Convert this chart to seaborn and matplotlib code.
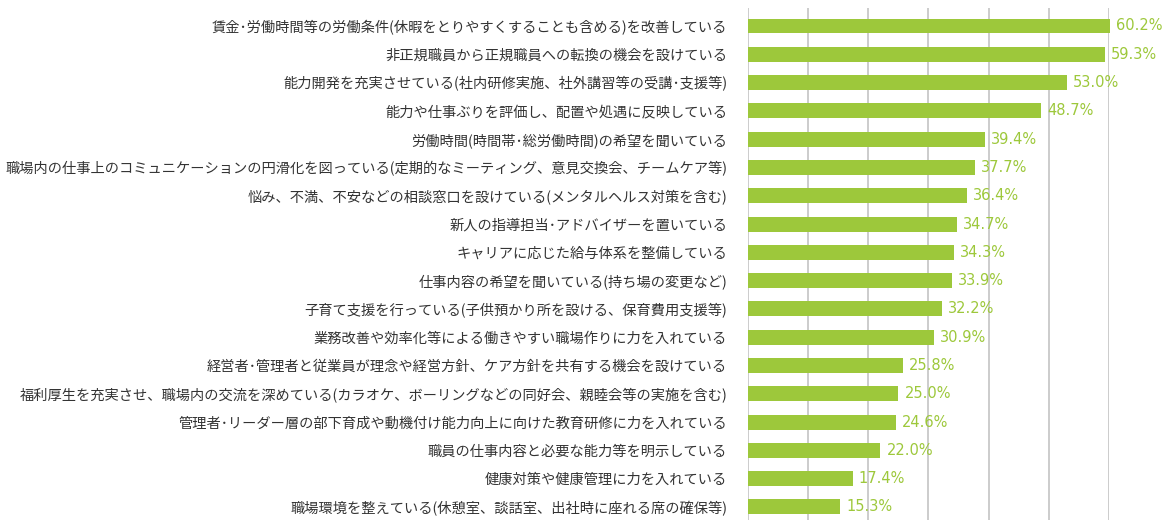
import matplotlib
matplotlib.use("Agg")
import matplotlib.pyplot as plt
import seaborn as sns
import pandas as pd

categories = [
    "賃金･労働時間等の労働条件(休暇をとりやすくすることも含める)を改善している",
    "非正規職員から正規職員への転換の機会を設けている",
    "能力開発を充実させている(社内研修実施、社外講習等の受講･支援等)",
    "能力や仕事ぶりを評価し、配置や処遇に反映している",
    "労働時間(時間帯･総労働時間)の希望を聞いている",
    "職場内の仕事上のコミュニケーションの円滑化を図っている(定期的なミーティング、意見交換会、チームケア等)",
    "悩み、不満、不安などの相談窓口を設けている(メンタルヘルス対策を含む)",
    "新人の指導担当･アドバイザーを置いている",
    "キャリアに応じた給与体系を整備している",
    "仕事内容の希望を聞いている(持ち場の変更など)",
    "子育て支援を行っている(子供預かり所を設ける、保育費用支援等)",
    "業務改善や効率化等による働きやすい職場作りに力を入れている",
    "経営者･管理者と従業員が理念や経営方針、ケア方針を共有する機会を設けている",
    "福利厚生を充実させ、職場内の交流を深めている(カラオケ、ボーリングなどの同好会、親睦会等の実施を含む)",
    "管理者･リーダー層の部下育成や動機付け能力向上に向けた教育研修に力を入れている",
    "職員の仕事内容と必要な能力等を明示している",
    "健康対策や健康管理に力を入れている",
    "職場環境を整えている(休憩室、談話室、出社時に座れる席の確保等)",
]
values = [60.2, 59.3, 53.0, 48.7, 39.4, 37.7, 36.4, 34.7, 34.3, 33.9,
          32.2, 30.9, 25.8, 25.0, 24.6, 22.0, 17.4, 15.3]

df = pd.DataFrame({"cat": categories, "val": values})

sns.set_theme(style="white")
plt.rcParams["font.family"] = ["Noto Sans CJK JP", "DejaVu Sans"]

GREEN = "#9dc83b"
fig = plt.figure(figsize=(11.73, 5.26), dpi=100)
ax = fig.add_axes([0.6377, 0.0114, 0.3077, 0.9736])

sns.barplot(data=df, y="cat", x="val", orient="h", color=GREEN,
            width=0.53, saturation=1, ax=ax)
for p in ax.patches:
    p.set_clip_on(False)
    p.set_edgecolor("none")

ax.set_xlim(0, 60)
ax.set_ylim(len(categories) - 1 + 0.46, -0.64)
ax.set_xticks([0, 10, 20, 30, 40, 50, 60])
ax.xaxis.grid(True, color="#c8c8c8", linewidth=1.3)
ax.set_axisbelow(True)
ax.tick_params(axis="x", bottom=False, labelbottom=False)
ax.tick_params(axis="y", left=False, pad=9, labelsize=10.25, labelcolor="#333333")
for s in ["top", "right", "bottom", "left"]:
    ax.spines[s].set_visible(False)
ax.set_xlabel("")
ax.set_ylabel("")

for i, v in enumerate(values):
    ax.text(v + 1.0, i, f"{v:.1f}%", va="center", ha="left",
            color=GREEN, fontsize=10.5, family="DejaVu Sans", clip_on=False)

fig.savefig("out.png", dpi=100)
